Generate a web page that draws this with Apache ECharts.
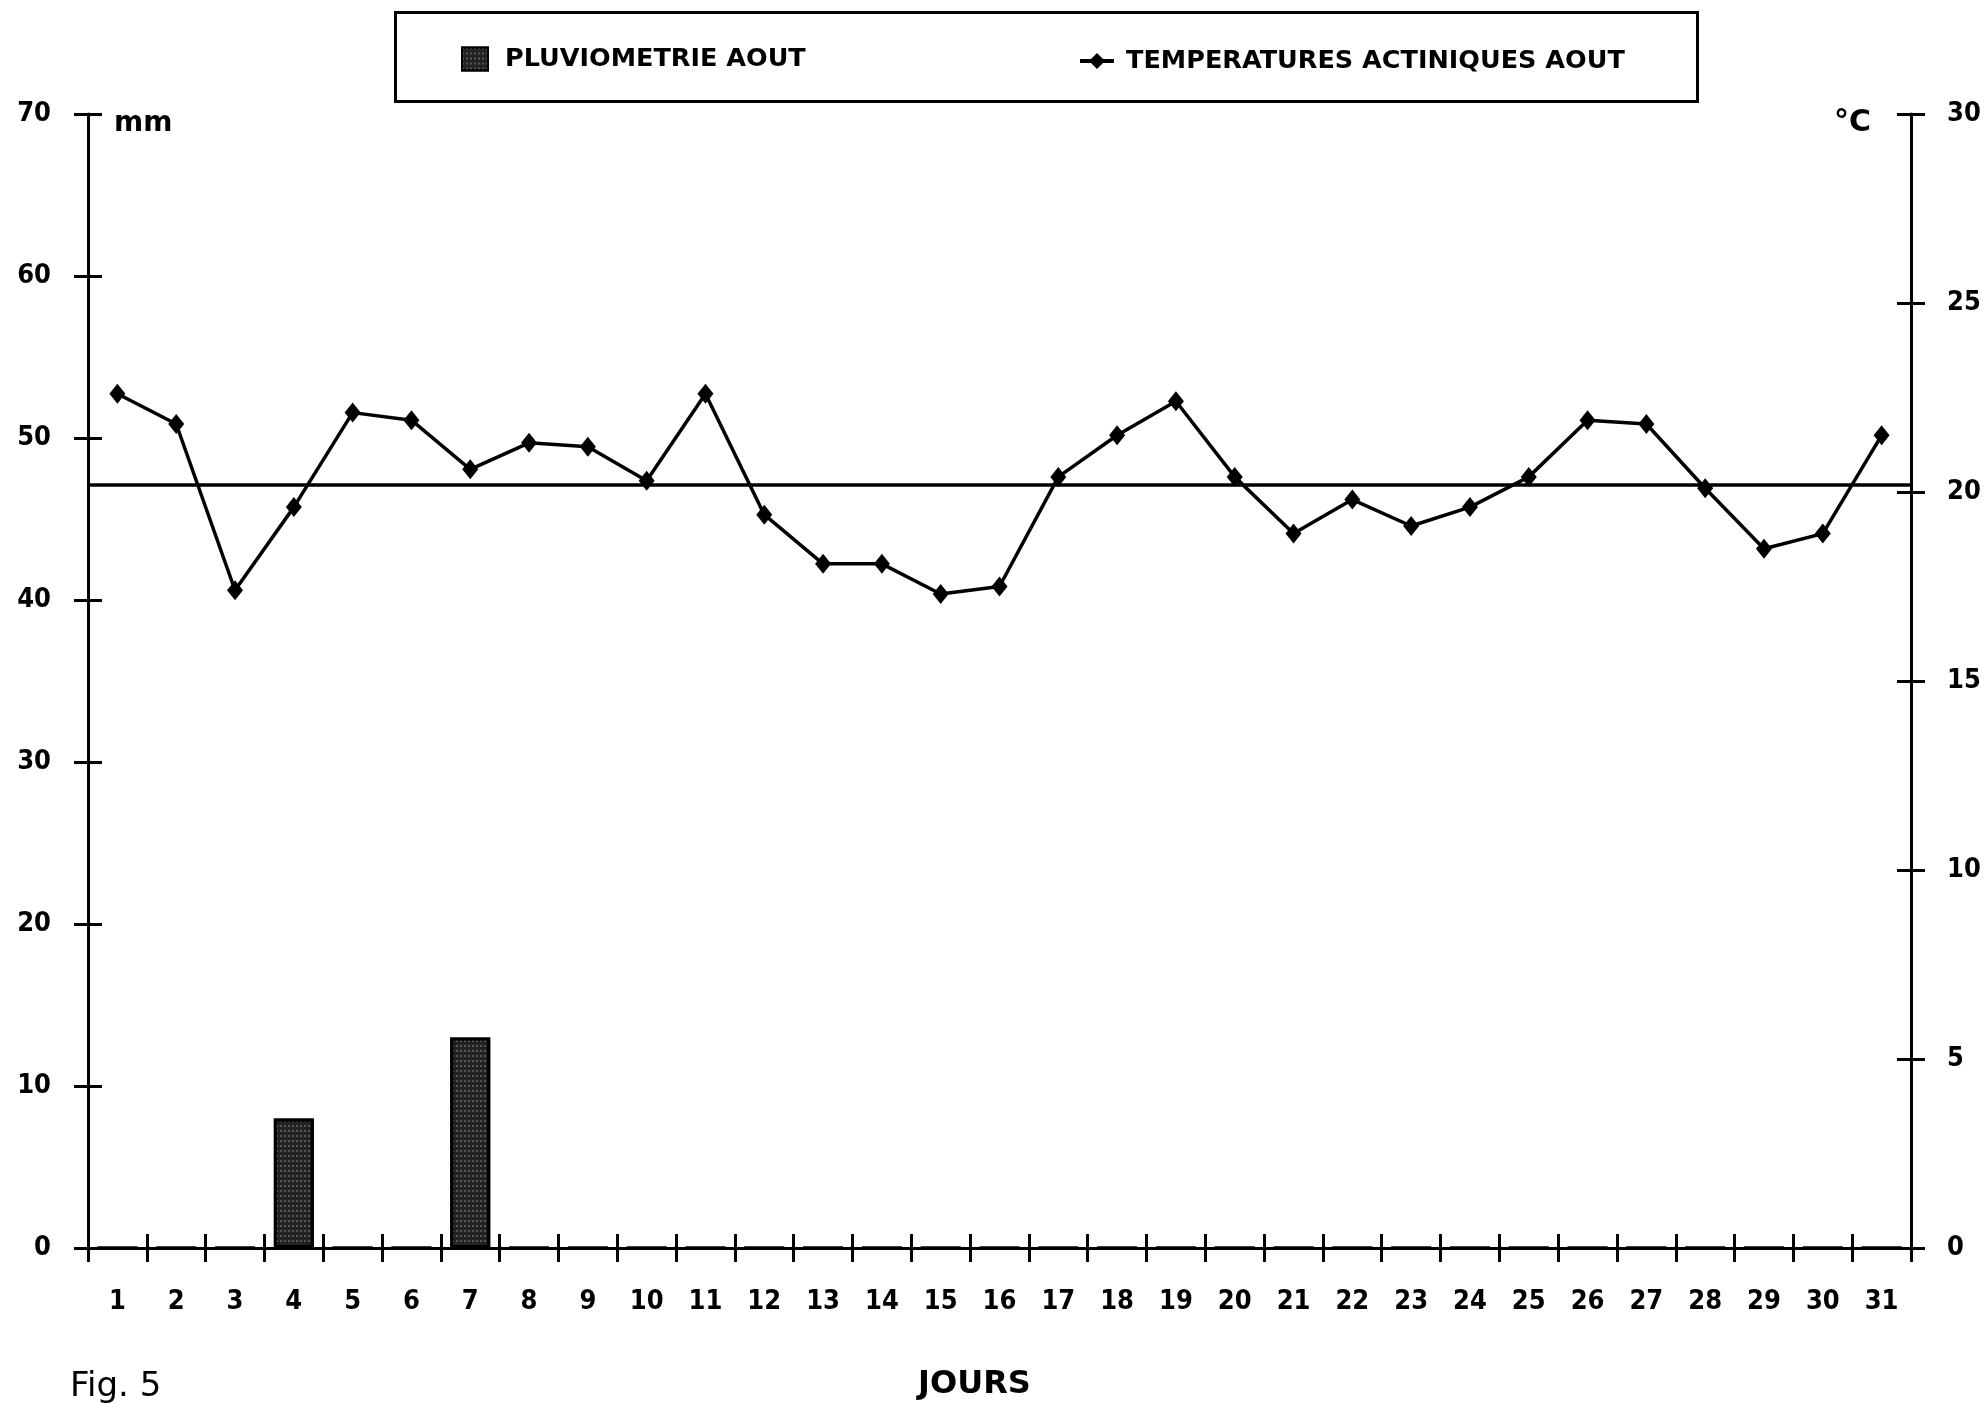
<!DOCTYPE html>
<html>
<head>
<meta charset="utf-8">
<script src="https://cdn.jsdelivr.net/npm/echarts@6/dist/echarts.min.js"></script>
<style>html,body{margin:0;padding:0;background:#fff}#c{width:1988px;height:1403px}</style>
</head>
<body>
<div id="c"></div>
<script>
const days = ['1','2','3','4','5','6','7','8','9','10','11','12','13','14','15','16','17','18','19','20','21','22','23','24','25','26','27','28','29','30','31'];
const rainfall = [0,0,0,8,0,0,13,0,0,0,0,0,0,0,0,0,0,0,0,0,0,0,0,0,0,0,0,0,0,0,0];
const temperature = [22.6,21.8,17.4,19.6,22.1,21.9,20.6,21.3,21.2,20.3,22.6,19.4,18.1,18.1,17.3,17.5,20.4,21.5,22.4,20.4,18.9,19.8,19.1,19.6,20.4,21.9,21.8,20.1,18.5,18.9,21.5];
const meanTemp = [20.2];
const rainName = 'PLUVIOMETRIE AOUT';
const tempName = 'TEMPERATURES ACTINIQUES AOUT';

const numFont = '"Liberation Sans Narrow","DejaVu Sans Condensed","DejaVu Sans",sans-serif';
const boldFont = '"DejaVu Sans",sans-serif';
const axisLine = {show:true, lineStyle:{color:'#000', width:3}};
const tickOut = {show:true, length:14, lineStyle:{color:'#000', width:3}};
const tickIn = {show:true, inside:true, length:14, lineStyle:{color:'#000', width:3}};
const numLabel = {color:'#000', fontFamily:numFont, fontWeight:'bold', fontSize:27};

const chart = echarts.init(document.getElementById('c'), null, {renderer:'canvas'});
chart.setOption({
  animation:false,
  backgroundColor:'#fff',
  grid:{left:88, right:77, top:114, bottom:155, containLabel:false, outerBoundsMode:'none'},
  legend:[
    {data:[{name:rainName, icon:'rect'}], left:456, top:41, itemWidth:26, itemHeight:23,
     textStyle:{color:'#000', fontFamily:boldFont, fontWeight:'bold', fontSize:25.5, padding:[0,0,0,12]}},
    {data:[tempName], left:1073, top:43, itemWidth:34, itemHeight:20,
     lineStyle:{width:4, color:'#000'},
     textStyle:{color:'#000', fontFamily:boldFont, fontWeight:'bold', fontSize:25.5, padding:[0,0,0,7]}}
  ],
  xAxis:[
    {type:'category', data:days, boundaryGap:true, position:'bottom',
     axisLine:axisLine, axisTick:Object.assign({alignWithLabel:false, interval:0}, tickOut),
     axisLabel:Object.assign({margin:40, interval:0}, numLabel),
     name:'JOURS', nameLocation:'middle', nameGap:121,
     nameTextStyle:{color:'#000', fontFamily:boldFont, fontWeight:'bold', fontSize:32, padding:[0,50,0,0]},
     splitLine:{show:false}},
    {type:'category', data:days, boundaryGap:true, position:'bottom',
     axisLine:{show:false}, axisTick:Object.assign({alignWithLabel:false, interval:0}, tickIn),
     axisLabel:{show:false}, splitLine:{show:false}}
  ],
  yAxis:[
    {type:'value', min:0, max:70, interval:10, position:'left',
     axisLine:axisLine, axisTick:tickOut, axisLabel:Object.assign({margin:37}, numLabel), splitLine:{show:false}},
    {type:'value', min:0, max:30, interval:5, position:'right',
     axisLine:axisLine, axisTick:tickOut, axisLabel:Object.assign({margin:36}, numLabel), splitLine:{show:false}},
    {type:'value', min:0, max:70, interval:10, position:'left',
     axisLine:{show:false}, axisTick:tickIn, axisLabel:{show:false}, splitLine:{show:false}},
    {type:'value', min:0, max:30, interval:5, position:'right',
     axisLine:{show:false}, axisTick:tickIn, axisLabel:{show:false}, splitLine:{show:false}}
  ],
  series:[
    {name:rainName, type:'bar', xAxisIndex:0, yAxisIndex:0, data:rainfall, barWidth:40,
     itemStyle:{color:'#222', borderColor:'#000', borderWidth:3,
       decal:{symbol:'rect', symbolSize:0.7, color:'rgba(255,255,255,0.45)', dashArrayX:[2,2], dashArrayY:[2,3], rotation:0}}},
    {name:tempName, type:'line', xAxisIndex:0, yAxisIndex:1, data:temperature,
     symbol:'diamond', symbolSize:[16,20], lineStyle:{color:'#000', width:3.5},
     itemStyle:{color:'#000'},
     markLine:{silent:true, symbol:['none','none'], label:{show:false},
       lineStyle:{color:'#000', width:3.5, type:'solid'},
       data:[{yAxis:meanTemp[0]}]}}
  ],
  graphic:[
    {type:'rect', left:393, top:10, shape:{width:1302, height:89},
     style:{fill:'none', stroke:'#000', lineWidth:3}},
    {type:'text', left:114, top:110, style:{text:'mm', fill:'#000', font:'bold 28px "DejaVu Sans"'}},
    {type:'text', left:1834, top:108, style:{text:'°C', fill:'#000', font:'bold 30px "DejaVu Sans"'}},
    {type:'text', left:70, top:1370, style:{text:'Fig. 5', fill:'#000', font:'34px "DejaVu Sans"'}}
  ]
});
</script>
</body>
</html>
